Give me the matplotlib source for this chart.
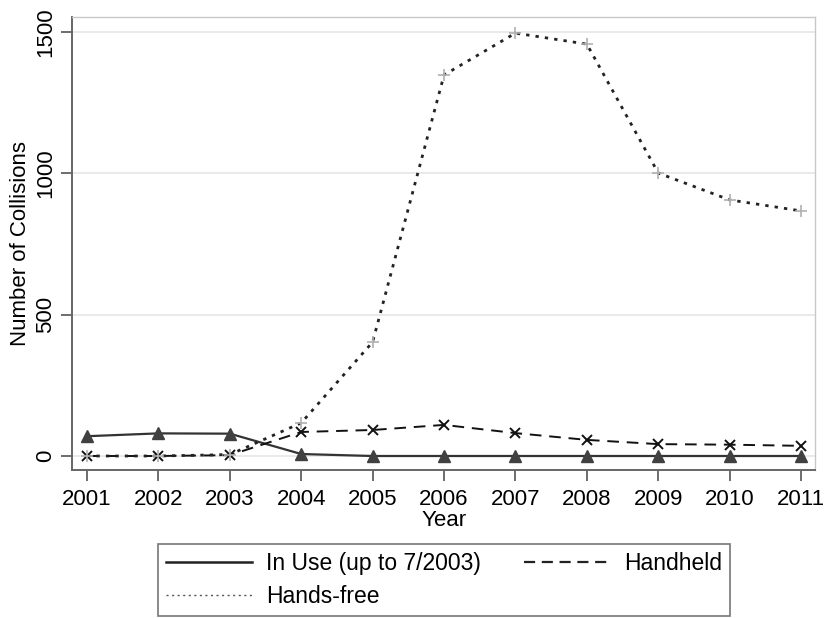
import matplotlib.pyplot as plt
from matplotlib.lines import Line2D

plt.rcParams['font.family'] = ['Liberation Sans', 'DejaVu Sans']

years = [2001, 2002, 2003, 2004, 2005, 2006, 2007, 2008, 2009, 2010, 2011]
in_use = [70, 80, 79, 7, 0, 0, 0, 0, 0, 0, 0]
handheld = [0, 0, 3, 85, 92, 110, 81, 57, 42, 40, 36]
hands_free = [0, 0, 5, 117, 403, 1348, 1496, 1457, 1001, 906, 867]

fig = plt.figure(figsize=(8.25, 6.18), dpi=100)
ax = fig.add_axes([0.0873, 0.2395, 0.901, 0.7330])

ax.grid(axis='y', color='#e6e6e6', linewidth=1.2, zorder=0)
ax.set_axisbelow(True)

ax.plot(years, in_use, color='#333333', linestyle='-', linewidth=1.6,
        marker='^', markersize=9, markerfacecolor='#404040',
        markeredgecolor='#404040', zorder=3)
ax.plot(years, handheld, color='#111111', linestyle=(0, (6, 4)), linewidth=1.4,
        marker='x', markersize=7, markeredgewidth=1.4, zorder=4)
ax.plot(years, hands_free, color='#222222', linestyle=(0, (1.2, 2.2)), linewidth=2.0,
        marker='+', markersize=9, markeredgewidth=1.2, markeredgecolor='#b0b0b0',
        zorder=5)

ax.set_xlim(2000.79, 2011.2)
ax.set_ylim(-49.5, 1553)
ax.set_xticks(years)
ax.set_yticks([0, 500, 1000, 1500])
ax.tick_params(axis='both', labelsize=16, length=8, width=1.2, color='#555555',
               direction='out')
ax.tick_params(axis='x', pad=6)
for lab in ax.get_yticklabels():
    lab.set_rotation(90)
    lab.set_va('center')

for side in ['left', 'bottom']:
    ax.spines[side].set_color('#666666')
    ax.spines[side].set_linewidth(1.4)
for side in ['top', 'right']:
    ax.spines[side].set_color('#c8c8c8')
    ax.spines[side].set_linewidth(1.0)

ax.set_xlabel('Year', fontsize=16, labelpad=0)
ax.set_ylabel('Number of Collisions', fontsize=16, labelpad=3)

# legend shows plain line styles, no markers
handles = [
    Line2D([], [], color='#222222', linestyle='-', linewidth=1.8),
    Line2D([], [], color='#555555', linestyle=(0, (1.5, 2.5)), linewidth=1.0),
    Line2D([], [], color='#222222', linestyle=(0, (5, 3)), linewidth=1.6),
]
labels = ['In Use (up to 7/2003)', 'Hands-free', 'Handheld']
leg = fig.legend(handles, labels, ncol=2, fontsize=16.5, loc='upper left',
                 bbox_to_anchor=(0.1915, 0.1197),
                 frameon=True, fancybox=False, handlelength=3.75,
                 borderaxespad=0, labelspacing=0.45, columnspacing=1.9,
                 handletextpad=0.6, borderpad=0.35)
leg.get_frame().set_edgecolor('#555555')
leg.get_frame().set_linewidth(1.2)

fig.savefig('out.png', dpi=100)
